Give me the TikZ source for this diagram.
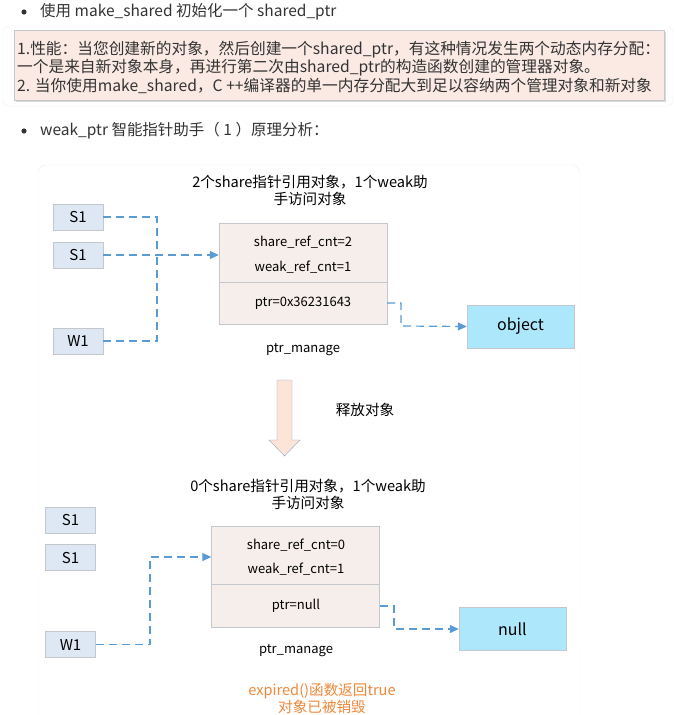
\documentclass[tikz,border=0pt]{standalone}
\usepackage{fontspec}
\setmainfont{Noto Sans CJK SC}
\usetikzlibrary{arrows.meta,positioning}
\definecolor{sblue}{HTML}{DEE8F4}
\definecolor{boxgray}{HTML}{C4C8CC}
\definecolor{mgrfill}{HTML}{F6EEEA}
\definecolor{objfill}{HTML}{ADE7FC}
\definecolor{linkblue}{HTML}{5B9BD5}
\definecolor{notefill}{HTML}{FAEAE3}
\definecolor{arrfill}{HTML}{FCE4D6}
\definecolor{arrline}{HTML}{8FA8C8}
\definecolor{warnorange}{HTML}{F0883A}
\definecolor{txt}{HTML}{333333}
\tikzset{ptrbox/.style={draw=boxgray,fill=sblue,minimum width=50pt,minimum height=26pt,inner sep=0pt,font=\fontsize{15}{17}\selectfont},
  mgrbox/.style={draw=boxgray,fill=mgrfill,minimum width=168pt,minimum height=101pt,inner sep=0pt},
  objbox/.style={draw=boxgray,fill=objfill,minimum width=107pt,minimum height=43pt,inner sep=0pt,font=\fontsize{16}{18}\selectfont},
  lbl/.style={inner sep=0pt,font=\fontsize{13}{15}\selectfont},
  ttl/.style={inner sep=0pt,align=center,font=\fontsize{14.6}{17}\selectfont},
  dashln/.style={draw=linkblue,line width=1.2pt,dash pattern=on 8pt off 5pt},
  dasharr/.style={dashln,-{Triangle[length=9pt,width=8pt]}}}
\begin{document}
\begin{tikzpicture}[x=1pt,y=-1pt]
\useasboundingbox (0,0) rectangle (676,715);
\fill[white] (0,0) rectangle (676,715);
\fill[txt] (24,12) circle(2.6);
\node[anchor=west,inner sep=0pt,text=txt,font=\fontsize{15.5}{17}\selectfont] (head1) at (40,12) {使用 make\_shared 初始化一个 shared\_ptr};
\draw[gray!12,rounded corners=6pt] (3,26) rectangle (673,106);
\fill[gray!30] (16,32) rectangle (666,102);
\draw[boxgray,fill=notefill] (14,30) rectangle (664,100);
\begin{scope}[every node/.style={anchor=west,inner sep=0pt,text=txt,font=\fontsize{15.7}{17}\selectfont}]
\node (note1) at (17,50) {1.性能：当您创建新的对象，然后创建一个shared\_ptr，有这种情况发生两个动态内存分配：};
\node (note2) at (17,68) {一个是来自新对象本身，再进行第二次由shared\_ptr的构造函数创建的管理器对象。};
\node (note3) at (17,86) {2. 当你使用make\_shared，C ++编译器的单一内存分配大到足以容纳两个管理对象和新对象};
\end{scope}
\fill[txt] (24,131) circle(2.6);
\node[anchor=west,inner sep=0pt,text=txt,font=\fontsize{15.5}{17}\selectfont] (head2) at (40,131) {weak\_ptr 智能指针助手（ 1 ）原理分析：};
\draw[gray!12,rounded corners=8pt] (38,165) rectangle (580,725);

\node[ttl] (title1) at (310,190) {2个share指针引用对象，1个weak助\\手访问对象};
\node[ptrbox] (s1a) at (78,217) {S1};
\node[ptrbox] (s1b) at (78,255) {S1};
\node[ptrbox] (w1) at (78,341) {W1};
\node[mgrbox] (mgr) at (303,273.5) {};
\draw[boxgray] (219,282) -- (387,282);
\node[lbl] (share1) at (303,242) {share\_ref\_cnt=2};
\node[lbl] (weak1) at (303,267) {weak\_ref\_cnt=1};
\node[lbl] (ptr1) at (303,303) {ptr=0x36231643};
\node[lbl] (mname1) at (303,350) {ptr\_manage};
\node[objbox] (obj) at (520.5,326.5) {object};
\coordinate (jn1) at (157,255);
\coordinate (pt1) at (387,303);
\draw[dashln] (s1a.east) -| (jn1);
\draw[dashln] (w1.east) -| (jn1);
\draw[dasharr] (s1b.east) -- (s1b.east -| mgr.west);
\draw[dasharr] (pt1) -| (401,326) -- (obj.west);

\draw[arrline,fill=arrfill] (277,380) -- (292,380) -- (292,440) -- (300,440) -- (284.5,456) -- (269,440) -- (277,440) -- cycle;
\node[ttl] (release) at (365,410) {释放对象};

\node[ttl] (title2) at (308,494) {0个share指针引用对象，1个weak助\\手访问对象};
\node[ptrbox] (s2a) at (70.5,520) {S1};
\node[ptrbox] (s2b) at (70.5,557.5) {S1};
\node[ptrbox] (w2) at (70.5,644.5) {W1};
\node[mgrbox] (mgr2) at (295.5,576.5) {};
\draw[boxgray] (211,584) -- (380,584);
\node[lbl] (share2) at (296,545) {share\_ref\_cnt=0};
\node[lbl] (weak2) at (296,569) {weak\_ref\_cnt=1};
\node[lbl] (ptr2) at (296,606) {ptr=null};
\node[lbl] (mname2) at (296,651) {ptr\_manage};
\node[objbox] (nul) at (512.5,629) {null};
\coordinate (pt2) at (380,606);
\draw[dasharr] (w2.east) -| (150,557) -- (150,557 -| mgr2.west);
\draw[dasharr] (pt2) -| (394,629) -- (nul.west);

\node[ttl,text=warnorange] (expired) at (322,698) {expired()函数返回true\\对象已被销毁};
\end{tikzpicture}
\end{document}
